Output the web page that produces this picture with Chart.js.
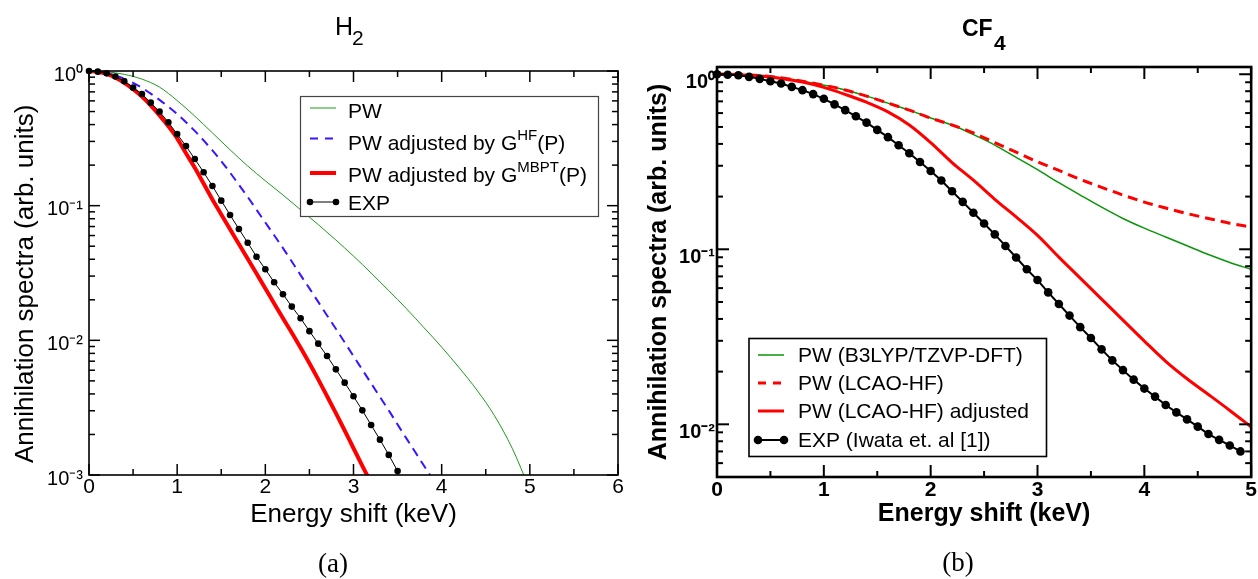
<!DOCTYPE html>
<html>
<head>
<meta charset="utf-8">
<script src="https://cdn.jsdelivr.net/npm/chart.js@4.4.1/dist/chart.umd.min.js"></script>
<style>
html,body{margin:0;padding:0;background:#fff;}
#wrap{position:relative;width:1258px;height:579px;overflow:hidden;background:#fff;}
.cv{position:absolute;top:0;width:629px;height:579px;}
.t{position:absolute;white-space:nowrap;color:#000;font-family:"Liberation Sans",Arial,sans-serif;}
.cap{position:absolute;white-space:nowrap;color:#000;font-family:"Liberation Serif","Times New Roman",serif;font-size:27px;line-height:27px;transform:translateX(-50%);}
</style>
</head>
<body>
<div id="wrap">
  <div class="cv" style="left:0"><canvas id="c1" width="629" height="579"></canvas></div>
  <div class="cv" style="left:629px"><canvas id="c2" width="629" height="579"></canvas></div>
  <span class="t" style="left:335px;top:14px;font-size:25px;line-height:25px;">H</span><span class="t" style="left:352px;top:27px;font-size:21px;line-height:21px;">2</span>
  <span class="t" style="left:962px;top:17px;font-size:23px;line-height:23px;font-weight:bold;">CF</span><span class="t" style="left:994px;top:32px;font-size:21px;line-height:21px;font-weight:bold;">4</span>
  <div class="cap" style="left:333px;top:550px;">(a)</div>
  <div class="cap" style="left:958px;top:549px;">(b)</div>
</div>
<script>
const FONT = '"Liberation Sans", Arial, sans-serif';

// ---------------- Panel (a): H2 ----------------
const h2XTicks = [0, 1, 2, 3, 4, 5, 6];
const h2YTicks = [1, 0.1, 0.01, 0.001];

const h2PwE = [0,0.2,0.4,0.6,0.8,1.0,1.2,1.4,1.6,1.8,2.0,2.2,2.4,2.6,2.8,3.0,3.2,3.4,3.6,3.8,4.0,4.2,4.4,4.6,4.8,5.0];
const h2PwV = [1,0.986,0.944,0.871,0.759,0.603,0.462,0.347,0.260,0.197,0.153,0.120,0.0933,0.0724,0.0556,0.0422,0.0316,0.0234,0.0172,0.0124,0.00891,0.00624,0.00427,0.00275,0.00158,0.00078];

const h2HfE = [0,0.1,0.2,0.3,0.4,0.5,0.6,0.7,0.8,0.9,1.0,1.1,1.2,1.3,1.4,1.5,1.6,1.7,1.8,1.9,2.0,2.1,2.2,2.3,2.4,2.5,2.6,2.7,2.8,2.9,3.0,3.1,3.2,3.3,3.4,3.5,3.6,3.7,3.8,3.9];
const h2HfV = [1,0.991,0.966,0.927,0.875,0.817,0.750,0.679,0.610,0.543,0.479,0.417,0.359,0.305,0.257,0.214,0.176,0.143,0.116,0.0933,0.0750,0.0603,0.0484,0.0385,0.0305,0.0243,0.0193,0.0153,0.0122,0.00966,0.00764,0.00605,0.00479,0.00380,0.00302,0.00237,0.00187,0.00148,0.00117,0.00093];

const h2MbE = [0,0.1,0.2,0.3,0.4,0.5,0.6,0.7,0.8,0.9,1.0,1.1,1.2,1.3,1.4,1.5,1.6,1.7,1.8,1.9,2.0,2.1,2.2,2.3,2.4,2.5,2.6,2.7,2.8,2.9,3.0,3.1,3.2];
const h2MbV = [1,0.986,0.951,0.891,0.817,0.733,0.646,0.556,0.468,0.389,0.316,0.245,0.191,0.146,0.111,0.0861,0.0668,0.0519,0.0403,0.0313,0.0243,0.0188,0.0146,0.0114,0.00881,0.00676,0.00513,0.00385,0.00288,0.00214,0.00158,0.00117,0.00087];

const h2ExpE = [0,0.1,0.2,0.3,0.4,0.5,0.6,0.7,0.8,0.9,1.0,1.1,1.2,1.3,1.4,1.5,1.6,1.7,1.8,1.9,2.0,2.1,2.2,2.3,2.4,2.5,2.6,2.7,2.8,2.9,3.0,3.1,3.2,3.3,3.4,3.5];
const h2ExpV = [1.0,0.989,0.961,0.91,0.84,0.752,0.675,0.582,0.499,0.416,0.340,0.277,0.222,0.177,0.140,0.109,0.0853,0.0671,0.0531,0.0418,0.0337,0.0270,0.0220,0.0178,0.0146,0.0117,0.00945,0.00765,0.00609,0.00485,0.00384,0.00302,0.00235,0.00183,0.00141,0.00107];

// ---------------- Panel (b): CF4 ----------------
const cf4XTicks = [0, 1, 2, 3, 4, 5];
const cf4YTicks = [1, 0.1, 0.01];

const cf4CalcE = [0,0.2,0.4,0.6,0.8,1.0,1.2,1.4,1.6,1.8,2.0,2.2,2.4,2.6,2.8,3.0,3.2,3.4,3.6,3.8,4.0,4.2,4.4,4.6,4.8,5.0];
const cf4DftV = [1,0.995,0.982,0.955,0.912,0.865,0.813,0.750,0.684,0.624,0.562,0.513,0.452,0.394,0.335,0.285,0.240,0.204,0.174,0.150,0.132,0.1175,0.1047,0.0933,0.0841,0.0767];
const cf4HfV = [1,0.995,0.982,0.955,0.912,0.865,0.813,0.750,0.684,0.624,0.562,0.513,0.462,0.407,0.359,0.316,0.282,0.251,0.226,0.204,0.186,0.172,0.160,0.150,0.141,0.134];
const cf4AdjV = [1,0.995,0.977,0.946,0.902,0.841,0.767,0.692,0.610,0.513,0.407,0.313,0.248,0.193,0.153,0.120,0.0902,0.0684,0.0519,0.0394,0.0299,0.0229,0.0182,0.0148,0.0120,0.00966];

const cf4ExpE = [0,0.1,0.2,0.3,0.4,0.5,0.6,0.7,0.8,0.9,1.0,1.1,1.2,1.3,1.4,1.5,1.6,1.7,1.8,1.9,2.0,2.1,2.2,2.3,2.4,2.5,2.6,2.7,2.8,2.9,3.0,3.1,3.2,3.3,3.4,3.5,3.6,3.7,3.8,3.9,4.0,4.1,4.2,4.3,4.4,4.5,4.6,4.7,4.8,4.9];
const cf4ExpV = [1.0,0.993,0.987,0.966,0.941,0.912,0.885,0.847,0.811,0.770,0.724,0.673,0.624,0.575,0.529,0.481,0.437,0.393,0.354,0.315,0.280,0.247,0.2145,0.1866,0.1616,0.1405,0.1217,0.1045,0.0897,0.0769,0.0667,0.0567,0.0487,0.0418,0.0359,0.0311,0.0268,0.0232,0.0204,0.0180,0.0160,0.0144,0.0129,0.0117,0.01067,0.0097,0.0088,0.00815,0.00757,0.0070];

// ---------------- helpers ----------------
const zip = (xs, ys) => xs.map((x, i) => ({ x: x, y: ys[i] }));
const SUP = { '-': '\u207B', '0': '\u2070', '1': '\u00B9', '2': '\u00B2', '3': '\u00B3' };
const powLabel = v => '10' + String(Math.round(Math.log10(v))).split('').map(c => SUP[c]).join('');

function minorLog(min, max) {
  const out = [];
  for (let d = Math.floor(Math.log10(min)); d <= Math.ceil(Math.log10(max)); d++) {
    for (let k = 2; k <= 9; k++) {
      const v = k * Math.pow(10, d);
      if (v > min && v < max) out.push(v);
    }
  }
  return out;
}
function minorLin(min, max, step) {
  const out = [];
  for (let v = min + step / 2; v < max; v += step) out.push(v);
  return out;
}

function drawRich(ctx, text, x, yMid, size, supSize, rise, weight) {
  const parts = text.split(/\^\{([^}]*)\}/);
  const base = yMid + 0.358 * size;
  ctx.textAlign = 'left';
  ctx.textBaseline = 'alphabetic';
  ctx.fillStyle = '#000';
  parts.forEach((p, i) => {
    const sup = i % 2 === 1;
    ctx.font = (weight || 'normal') + ' ' + (sup ? supSize : size) + 'px ' + FONT;
    ctx.fillText(p, x, sup ? base - rise : base);
    x += ctx.measureText(p).width;
  });
}

function makeFramePlugin(f) {
  return {
    id: 'frameTicks',
    afterDatasetsDraw(chart) {
      const { ctx, chartArea: a, scales } = chart;
      const xs = scales.x, ys = scales.y;
      ctx.save();
      ctx.strokeStyle = '#000';
      ctx.lineWidth = f.tickWidth;
      ctx.lineCap = 'butt';
      const seg = (x1, y1, x2, y2) => { ctx.beginPath(); ctx.moveTo(x1, y1); ctx.lineTo(x2, y2); ctx.stroke(); };
      const xt = (v, len) => { const p = xs.getPixelForValue(v); seg(p, a.bottom, p, a.bottom - len); seg(p, a.top, p, a.top + len); };
      const yt = (v, len) => { const p = ys.getPixelForValue(v); seg(a.left, p, a.left + len, p); seg(a.right, p, a.right - len, p); };
      f.xMajor.forEach(v => xt(v, f.major));
      minorLin(xs.min, xs.max, 1).forEach(v => xt(v, f.minor));
      f.yMajor.forEach(v => { if (v >= ys.min && v <= ys.max) yt(v, f.major); });
      minorLog(ys.min, ys.max).forEach(v => yt(v, f.minor));
      ctx.lineWidth = f.frameWidth;
      ctx.strokeRect(a.left, a.top, a.right - a.left, a.bottom - a.top);
      ctx.restore();
    }
  };
}

function makeLegendPlugin(L) {
  return {
    id: 'boxLegend',
    afterDraw(chart) {
      const ctx = chart.ctx;
      ctx.save();
      ctx.fillStyle = '#fff';
      ctx.fillRect(L.x, L.y, L.w, L.h);
      ctx.strokeStyle = L.borderColor;
      ctx.lineWidth = L.borderWidth;
      ctx.strokeRect(L.x, L.y, L.w, L.h);
      L.order.forEach((di, i) => {
        const ds = chart.data.datasets[di];
        const r = L.rows[i];
        ctx.save();
        ctx.strokeStyle = ds.borderColor;
        ctx.lineWidth = ds.borderWidth;
        ctx.setLineDash(ds.legendDash || ds.borderDash || []);
        ctx.beginPath(); ctx.moveTo(L.x1, r.line); ctx.lineTo(L.x2, r.line); ctx.stroke();
        ctx.setLineDash([]);
        if (ds.pointRadius > 0) {
          ctx.fillStyle = ds.pointBackgroundColor;
          [L.x1, L.x2].forEach(px => { ctx.beginPath(); ctx.arc(px, r.line, ds.pointRadius, 0, Math.PI * 2); ctx.fill(); });
        }
        ctx.restore();
        drawRich(ctx, ds.label, L.textX, r.text, L.size, L.supSize, L.rise, 'normal');
      });
      ctx.restore();
    }
  };
}

function build(id, spec) {
  return new Chart(document.getElementById(id), {
    type: 'line',
    data: { datasets: spec.datasets },
    options: {
      responsive: false,
      animation: false,
      devicePixelRatio: 1,
      layout: { padding: { top: spec.padTop, right: spec.padRight, bottom: 0, left: 0 } },
      plugins: { legend: { display: false }, tooltip: { enabled: false }, title: { display: false } },
      scales: {
        x: {
          type: 'linear', min: spec.xMin, max: spec.xMax,
          afterBuildTicks: s => { s.ticks = spec.xTicks.map(v => ({ value: v })); },
          ticks: { font: { family: FONT, size: spec.xTickSize, weight: spec.weight }, color: '#000', padding: spec.xTickPad, autoSkip: false, maxRotation: 0, callback: v => String(v) },
          grid: { display: false, drawTicks: false },
          border: { display: false },
          title: { display: true, text: 'Energy shift (keV)', color: '#000', font: { family: FONT, size: spec.titleSize, weight: spec.weight }, padding: { top: 0, bottom: spec.xTitlePad } },
          afterFit: s => { s.height = spec.xHeight; }
        },
        y: {
          type: 'logarithmic', min: spec.yMin, max: spec.yMax,
          afterBuildTicks: s => { s.ticks = spec.yTicks.map(v => ({ value: v })); },
          ticks: { font: { family: FONT, size: spec.yTickSize, weight: spec.weight }, color: '#000', padding: spec.yTickPad, labelOffset: spec.yLabelOffset, autoSkip: false, callback: v => powLabel(v) },
          grid: { display: false, drawTicks: false },
          border: { display: false },
          title: { display: true, text: 'Annihilation spectra (arb. units)' + spec.yTitleTail, color: '#000', font: { family: FONT, size: spec.titleSize, weight: spec.weight }, padding: { top: spec.yTitlePad, bottom: 0 } },
          afterFit: s => { s.width = spec.yWidth; }
        }
      }
    },
    plugins: [makeFramePlugin(spec.frame), makeLegendPlugin(spec.legend)]
  });
}

// ---------------- Chart (a) ----------------
build('c1', {
  xMin: 0, xMax: 6, yMin: 0.001, yMax: 1,
  xTicks: h2XTicks, yTicks: h2YTicks,
  padTop: 71, padRight: 11, xHeight: 104, yWidth: 89,
  xTickSize: 21, yTickSize: 20, titleSize: 26, weight: 'normal',
  xTickPad: 0, yTickPad: 6, yLabelOffset: 4, xTitlePad: 49, yTitlePad: 10, yTitleTail: '\u00A0\u00A0\u00A0',
  frame: { xMajor: h2XTicks, yMajor: h2YTicks, major: 11, minor: 6, tickWidth: 1.5, frameWidth: 1.6 },
  legend: {
    x: 300.5, y: 96.5, w: 298, h: 120, borderColor: '#444', borderWidth: 1.2,
    x1: 310, x2: 336, textX: 348, size: 21, supSize: 15, rise: 10,
    order: [0, 1, 2, 3],
    rows: [{ line: 108, text: 110.5 }, { line: 138.5, text: 142.5 }, { line: 173, text: 174.5 }, { line: 202, text: 202 }]
  },
  datasets: [
    { label: 'PW', data: zip(h2PwE, h2PwV), borderColor: '#1e9a1e', borderWidth: 1, pointRadius: 0, cubicInterpolationMode: 'monotone', order: 3 },
    { label: 'PW adjusted by G^{HF}(P)', data: zip(h2HfE, h2HfV), borderColor: '#3c14ff', borderWidth: 2, borderDash: [9, 6], legendDash: [8, 7], pointRadius: 0, cubicInterpolationMode: 'monotone', order: 2 },
    { label: 'PW adjusted by G^{MBPT}(P)', data: zip(h2MbE, h2MbV), borderColor: '#ff0000', borderWidth: 4, pointRadius: 0, cubicInterpolationMode: 'monotone', order: 1 },
    { label: 'EXP', data: zip(h2ExpE, h2ExpV), borderColor: '#000', borderWidth: 1, pointRadius: 3.3, pointBackgroundColor: '#000', pointBorderWidth: 0, tension: 0, clip: false, order: 0 }
  ]
});

// ---------------- Chart (b) ----------------
build('c2', {
  xMin: 0, xMax: 5, yMin: 0.005, yMax: 1.1,
  xTicks: cf4XTicks, yTicks: cf4YTicks,
  padTop: 67, padRight: 6, xHeight: 102, yWidth: 88,
  xTickSize: 21, yTickSize: 20, titleSize: 25, weight: 'bold',
  xTickPad: 1, yTickPad: 2, yLabelOffset: 8, xTitlePad: 50, yTitlePad: 15, yTitleTail: '',
  frame: { xMajor: cf4XTicks, yMajor: cf4YTicks, major: 12, minor: 6, tickWidth: 2, frameWidth: 2.6 },
  legend: {
    x: 120, y: 338.5, w: 297.5, h: 118, borderColor: '#000', borderWidth: 1.6,
    x1: 129, x2: 155, textX: 169, size: 21, supSize: 14, rise: 10,
    order: [0, 1, 2, 3],
    rows: [{ line: 355, text: 354 }, { line: 383, text: 382.5 }, { line: 411, text: 410 }, { line: 440, text: 439 }]
  },
  datasets: [
    { label: 'PW (B3LYP/TZVP-DFT)', data: zip(cf4CalcE, cf4DftV), borderColor: '#0a960a', borderWidth: 1.5, pointRadius: 0, cubicInterpolationMode: 'monotone', order: 3 },
    { label: 'PW (LCAO-HF)', data: zip(cf4CalcE, cf4HfV), borderColor: '#ff0000', borderWidth: 3, borderDash: [10, 6], legendDash: [8, 7], pointRadius: 0, cubicInterpolationMode: 'monotone', order: 2 },
    { label: 'PW (LCAO-HF) adjusted', data: zip(cf4CalcE, cf4AdjV), borderColor: '#ff0000', borderWidth: 3, pointRadius: 0, cubicInterpolationMode: 'monotone', order: 1 },
    { label: 'EXP (Iwata et. al [1])', data: zip(cf4ExpE, cf4ExpV), borderColor: '#000', borderWidth: 2, pointRadius: 4.3, pointBackgroundColor: '#000', pointBorderWidth: 0, tension: 0, clip: false, order: 0 }
  ]
});
</script>
</body>
</html>
